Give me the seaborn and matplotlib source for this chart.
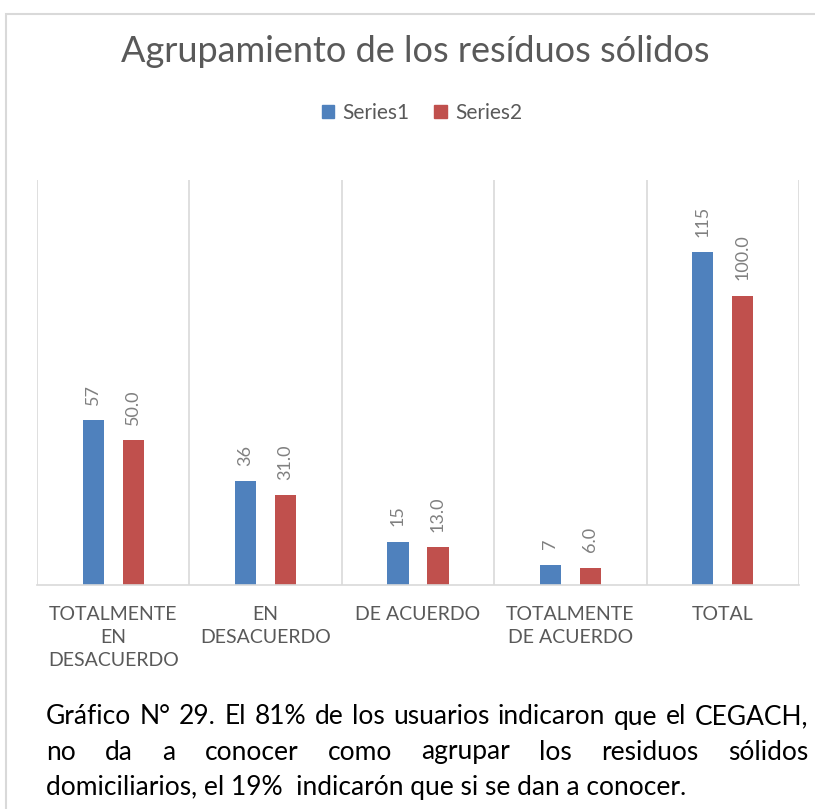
import matplotlib
matplotlib.use("Agg")
import matplotlib.pyplot as plt
from matplotlib.patches import Rectangle
import pandas as pd
import seaborn as sns

categorias = ["TOTALMENTE EN DESACUERDO", "EN DESACUERDO", "DE ACUERDO",
              "TOTALMENTE DE ACUERDO", "TOTAL"]
etiquetas = ["TOTALMENTE\nEN\nDESACUERDO", "EN\nDESACUERDO", "DE ACUERDO",
             "TOTALMENTE\nDE ACUERDO", "TOTAL"]
series1 = [57, 36, 15, 7, 115]
series2 = [50.0, 31.0, 13.0, 6.0, 100.0]
nombres = ["Series1", "Series2"]
colores = ["#4F81BD", "#C0504D"]
titulo = "Agrupamiento de los resíduos sólidos"
pie = ["Gráfico N° 29. El  81% de los usuarios indicaron que el CEGACH,",
       "no da a conocer como agrupar los residuos sólidos",
       "domiciliarios, el 19%  indicarón que si se dan a conocer."]


def justificar(fig, linea, x0, x1, y, **kw):
    # texto justificado: reparte el espacio sobrante entre las palabras
    palabras = linea.split()
    r = fig.canvas.get_renderer()
    textos = [fig.text(0, y, p, ha="left", va="center", **kw) for p in palabras]
    anchos = [t.get_window_extent(r).width / fig.bbox.width for t in textos]
    hueco = (x1 - x0 - sum(anchos)) / (len(palabras) - 1)
    x = x0
    for t, a in zip(textos, anchos):
        t.set_x(x)
        x += a + hueco


def main():
    sns.set_style("white")
    plt.rcParams["font.family"] = ["Lato", "DejaVu Sans"]

    df = pd.DataFrame({
        "categoria": categorias * 2,
        "serie": [nombres[0]] * len(categorias) + [nombres[1]] * len(categorias),
        "valor": series1 + series2,
    })

    W, H = 815, 809
    fig = plt.figure(figsize=(W / 100, H / 100), dpi=100)
    ax = fig.add_axes([37 / W, 1 - 585 / H, (799 - 37) / W, (585 - 180) / H])

    sns.barplot(data=df, x="categoria", y="valor", hue="serie", order=categorias,
                hue_order=nombres, palette=colores, saturation=1, width=0.525,
                gap=0.47, linewidth=0, legend=False, ax=ax)

    formatos = ["{:.0f}", "{:.1f}"]
    for cont, fmt in zip(ax.containers, formatos):
        ax.bar_label(cont, labels=[fmt.format(v) for v in cont.datavalues],
                     rotation=90, padding=11, color="#808080", fontsize=13)

    ax.set_ylim(0, 140)
    ax.set_xlim(-0.5, len(categorias) - 0.5)
    ax.set_yticks([])
    ax.set_xticks(range(len(categorias)))
    ax.set_xticklabels(etiquetas, color="#595959", fontsize=14, linespacing=1.45)
    ax.set_xticks([i - 0.5 for i in range(len(categorias) + 1)], minor=True)
    ax.tick_params(axis="x", which="both", length=0, pad=15)
    ax.grid(axis="x", which="minor", color="#D9D9D9", linewidth=1.2)
    ax.set_axisbelow(True)
    ax.set_xlabel("")
    ax.set_ylabel("")
    for lado in ["top", "left", "right"]:
        ax.spines[lado].set_visible(False)
    ax.spines["bottom"].set_color("#D9D9D9")
    ax.spines["bottom"].set_linewidth(1.2)

    fig.text(415 / W, 1 - 52 / H, titulo, ha="center", va="center",
             fontsize=26, color="#595959")

    handles = [Rectangle((0, 0), 1, 1, color=c) for c in colores]
    fig.legend(handles, nombres, loc="center", bbox_to_anchor=(422 / W, 1 - 113 / H),
               ncol=2, frameon=False, fontsize=15, labelcolor="#595959",
               handlelength=0.6, handleheight=0.6, handletextpad=0.4, columnspacing=1.2)

    estilo = dict(fontsize=19, color="black")
    for i, linea in enumerate(pie):
        y = 1 - (717 + 35 * i) / H
        if i < len(pie) - 1:
            justificar(fig, linea, 46 / W, 808 / W, y, **estilo)
        else:
            fig.text(46 / W, y, linea, ha="left", va="center", **estilo)

    fig.patches.append(Rectangle((6 / W, -0.01), 1.0, 1 - 14 / H + 0.01,
                                 transform=fig.transFigure, fill=False,
                                 edgecolor="#D9D9D9", linewidth=1.5))

    fig.savefig("out.png", dpi=100)


if __name__ == "__main__":
    main()
